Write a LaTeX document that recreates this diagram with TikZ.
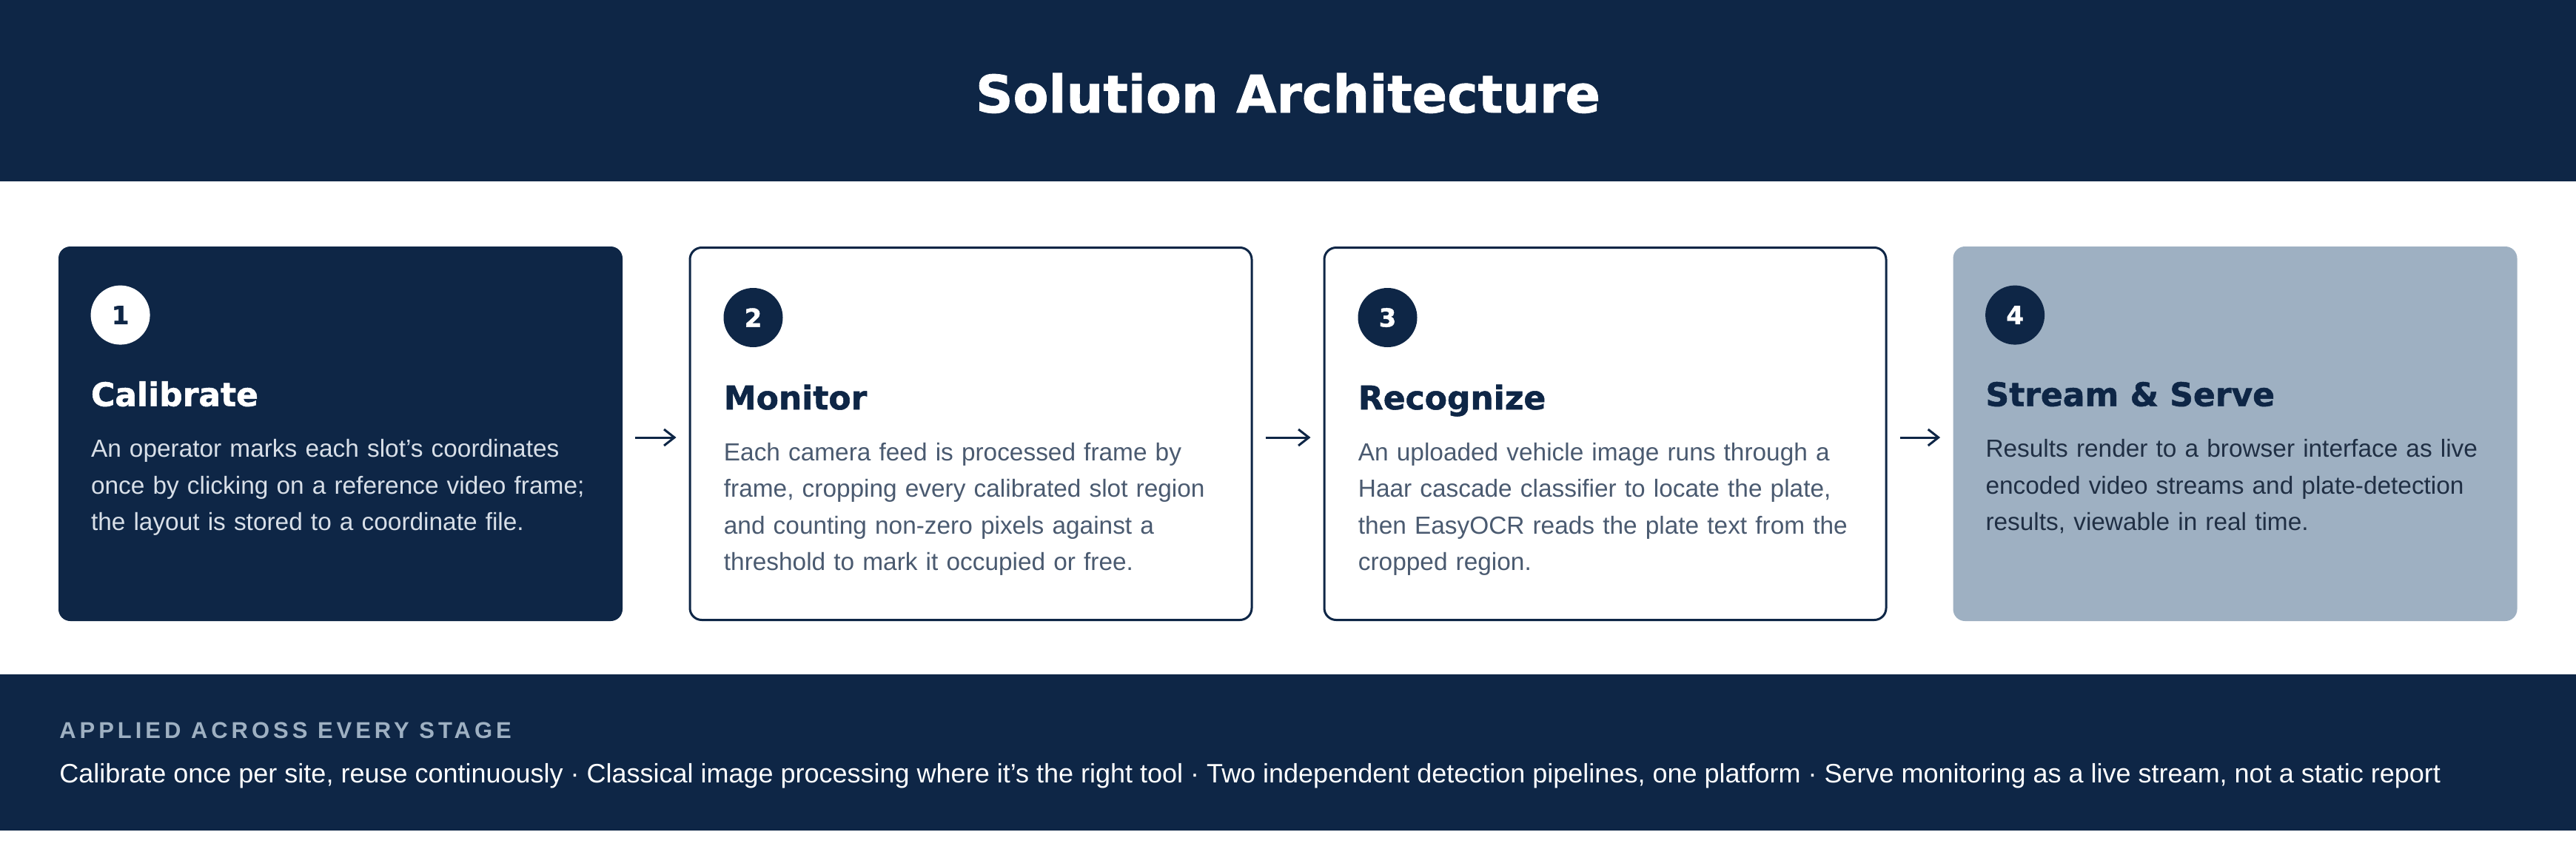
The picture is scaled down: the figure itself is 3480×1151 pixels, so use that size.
\documentclass[tikz,border=0pt]{standalone}
\usepackage{fontspec}
\setmainfont{Liberation Sans}
\newfontfamily\headfont{DejaVu Sans}[BoldFeatures={FakeBold=1.2}]
\usetikzlibrary{arrows.meta,positioning,calc}
\definecolor{navycol}{RGB}{14,38,70}
\definecolor{slatecol}{RGB}{158,176,194}
\definecolor{bodycol}{RGB}{74,90,112}
\definecolor{palecol}{RGB}{216,223,232}
\definecolor{darkcol}{RGB}{32,47,68}

\begin{document}
\begin{tikzpicture}[
    x=0.5pt, y=-0.5pt,
    stage/.style={rectangle, rounded corners=8pt, minimum width=381pt, minimum height=253pt, inner sep=0pt},
    framed/.style={stage, draw=navycol, line width=1.5pt, fill=white, minimum width=379.5pt, minimum height=251.5pt},
    num/.style={circle, minimum size=40pt, inner sep=0pt, font=\headfont\bfseries\fontsize{17}{20}\selectfont},
    headline/.style={anchor=base west, inner sep=0pt, font=\headfont\bfseries\fontsize{22}{26}\selectfont},
    desc/.style={anchor=base west, inner sep=0pt, text width=360pt, align=left, font=\fontsize{16.7}{24.75}\selectfont},
    flow/.style={-{Straight Barb[length=7pt, width=11pt]}, line width=1.5pt, navycol, shorten <=8.5pt, shorten >=8.5pt},
]
\useasboundingbox (0,0) rectangle (3480,1151);

% header band
\fill[navycol] (0,0) rectangle (3480,245);
\node[anchor=base, inner sep=0pt, text=white, font=\headfont\bfseries\fontsize{35}{40}\selectfont] (title) at (1740,152) {Solution Architecture};

% the four stages
\node[stage, fill=navycol] (calib) at (460,586) {};
\node[framed] (monit) at (1311.5,586) {};
\node[framed] (recog) at (2168.5,586) {};
\node[stage, fill=slatecol] (serve) at (3019.5,586) {};

\node[num, fill=white, text=navycol] (n1) at ($(calib.north west)+(84,93)$) {1};
\node[headline, text=white] (h1) at ($(calib.north west)+(44,216)$) {Calibrate};
\node[desc, text=palecol] (d1) at ($(calib.north west)+(44,285)$) {An operator marks each slot's coordinates\\once by clicking on a reference video frame;\\the layout is stored to a coordinate file.};

\node[num, fill=navycol, text=white] (n2) at ($(monit.north west)+(87,96)$) {2};
\node[headline, text=navycol] (h2) at ($(monit.north west)+(47,220)$) {Monitor};
\node[desc, text=bodycol] (d2) at ($(monit.north west)+(47,289)$) {Each camera feed is processed frame by\\frame, cropping every calibrated slot region\\and counting non-zero pixels against a\\threshold to mark it occupied or free.};

\node[num, fill=navycol, text=white] (n3) at ($(recog.north west)+(87,96)$) {3};
\node[headline, text=navycol] (h3) at ($(recog.north west)+(47,220)$) {Recognize};
\node[desc, text=bodycol] (d3) at ($(recog.north west)+(47,289)$) {An uploaded vehicle image runs through a\\Haar cascade classifier to locate the plate,\\then EasyOCR reads the plate text from the\\cropped region.};

\node[num, fill=navycol, text=white] (n4) at ($(serve.north west)+(84,93)$) {4};
\node[headline, text=navycol] (h4) at ($(serve.north west)+(44,216)$) {Stream \& Serve};
\node[desc, text=darkcol] (d4) at ($(serve.north west)+(44,285)$) {Results render to a browser interface as live\\encoded video streams and plate-detection\\results, viewable in real time.};

\draw[flow] ([yshift=-2.5pt]calib.east) -- ([yshift=-2.5pt]monit.west);
\draw[flow] ([yshift=-2.5pt]monit.east) -- ([yshift=-2.5pt]recog.west);
\draw[flow] ([yshift=-2.5pt]recog.east) -- ([yshift=-2.5pt]serve.west);

% footer band
\fill[navycol] (0,911) rectangle (3480,1122);
\node[anchor=base west, inner sep=0pt, text=slatecol, font=\bfseries\fontsize{15.5}{18}\selectfont\addfontfeature{LetterSpace=16}] (tag) at (80,997) {APPLIED ACROSS EVERY STAGE};
\node[anchor=base west, inner sep=0pt, text=white, font=\fontsize{18}{21}\selectfont] (rules) at (80,1057) {Calibrate once per site, reuse continuously · Classical image processing where it's the right tool · Two independent detection pipelines, one platform · Serve monitoring as a live stream, not a static report};
\end{tikzpicture}
\end{document}
